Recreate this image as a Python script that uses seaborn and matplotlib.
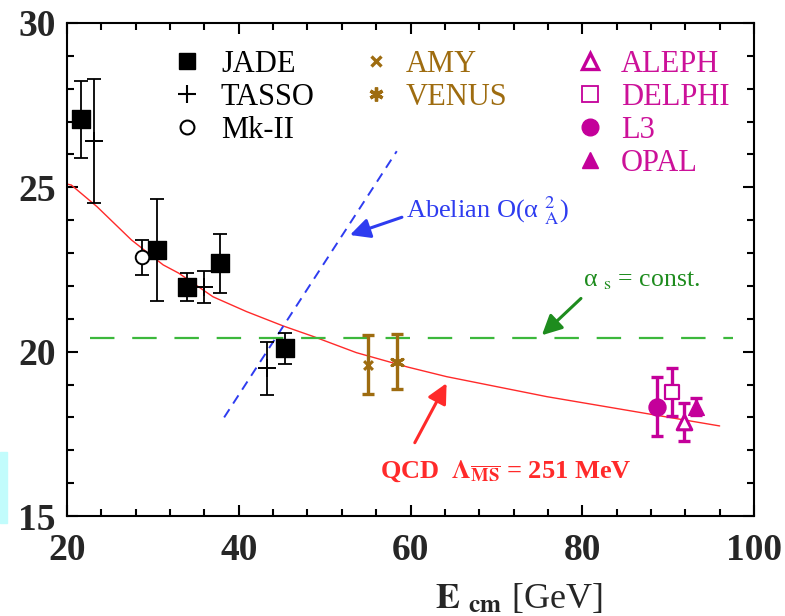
import matplotlib
matplotlib.use('Agg')

import matplotlib.pyplot as plt
import seaborn as sns
from matplotlib.lines import Line2D
from matplotlib.patches import Rectangle
from matplotlib.ticker import MultipleLocator

# DATA
jade_E = [21.6, 30.5, 34.0, 37.8, 45.4]
jade_val = [27.07, 23.09, 21.96, 22.69, 20.10]
jade_err = [1.18, 1.55, 0.42, 0.90, 0.48]

tasso_E = [23.2, 35.95, 43.25]
tasso_val = [26.41, 21.96, 19.49]
tasso_err = [1.90, 0.48, 0.80]

mk2_E = [28.7]
mk2_val = [22.87]
mk2_err = [0.53]

amy_E = [55.1]
amy_val = [19.60]
amy_err = [0.90]

venus_E = [58.4]
venus_val = [19.70]
venus_err = [0.83]

l3_E = [88.65]
l3_val = [18.33]
l3_err = [0.91]

delphi_E = [90.45]
delphi_val = [18.77]
delphi_err = [0.72]

aleph_E = [91.85]
aleph_val = [17.87]
aleph_err = [0.58]

opal_E = [93.3]
opal_val = [18.33]
opal_err = [0.27]

# QCD running curve
qcd_E = [20.0, 20.5, 23.5, 27.5, 31.2, 33.0, 37.0, 40.9, 45.2, 48.7, 53.7, 59.7, 64.2, 75.9, 96.0]
qcd_val = [25.10, 25.07, 24.41, 23.40, 22.64, 22.39, 21.67, 21.22, 20.78, 20.46, 19.97, 19.53, 19.24, 18.63, 17.74]

# Abelian O(alpha^2) line and alpha_s = const line
abel_E = [38.3, 58.4]
abel_val = [18.0, 26.1]
const_E = [22.7, 97.6]
const_val = [20.43, 20.43]

BROWN = '#9E6C10'
MAG = '#C4009A'
MAG_TXT = '#CC1199'
RED = '#FF2A2A'
BLUE = '#2E3CF0'
GREEN_LINE = '#3CB83C'
GREEN = '#1E8C1E'

sns.set_style("ticks")
plt.rcParams['font.family'] = ['Liberation Serif', 'DejaVu Serif']
plt.rcParams['mathtext.fontset'] = 'stix'

fig = plt.figure(figsize=(7.85, 6.16), dpi=100)
ax = fig.add_axes([67 / 785, 1 - 516 / 616, 687 / 785, 493 / 616])

# lines
sns.lineplot(x=qcd_E, y=qcd_val, ax=ax, color=RED, linewidth=1.0, sort=False, zorder=2)
sns.lineplot(x=abel_E, y=abel_val, ax=ax, color=BLUE, linewidth=1.4,
             linestyle=(0, (5, 3.5)), sort=False, zorder=2)
sns.lineplot(x=const_E, y=const_val, ax=ax, color=GREEN_LINE, linewidth=1.6,
             linestyle=(0, (11, 8)), sort=False, zorder=2)

# error bars
ebk = dict(fmt='none', ecolor='black', elinewidth=1.3, capsize=5, capthick=1.3, zorder=3)
ax.errorbar(jade_E, jade_val, yerr=jade_err, **ebk)
ax.errorbar(tasso_E, tasso_val, yerr=tasso_err, **ebk)
ax.errorbar(mk2_E, mk2_val, yerr=mk2_err, **ebk)
ebb = dict(fmt='none', ecolor=BROWN, elinewidth=2.4, capsize=4.5, capthick=2.4, zorder=3)
ax.errorbar(amy_E, amy_val, yerr=amy_err, **ebb)
ax.errorbar(venus_E, venus_val, yerr=venus_err, **ebb)
ebm = dict(fmt='none', ecolor=MAG, elinewidth=2.4, capsize=4.5, capthick=2.4, zorder=3)
for xs, ys, es in [(l3_E, l3_val, l3_err), (delphi_E, delphi_val, delphi_err),
                   (aleph_E, aleph_val, aleph_err), (opal_E, opal_val, opal_err)]:
    ax.errorbar(xs, ys, yerr=es, **ebm)

# markers
sns.scatterplot(x=jade_E, y=jade_val, ax=ax, marker='s', s=150, color='black',
                edgecolor='black', zorder=5)
sns.scatterplot(x=tasso_E, y=tasso_val, ax=ax, marker='+', s=170, color='black',
                linewidth=1.4, zorder=5)
sns.scatterplot(x=mk2_E, y=mk2_val, ax=ax, marker='o', s=95, color='white',
                edgecolor='black', linewidth=1.4, zorder=5)
sns.scatterplot(x=amy_E, y=amy_val, ax=ax, marker='x', s=40, color=BROWN,
                linewidth=2.2, zorder=5)
sns.scatterplot(x=venus_E, y=venus_val, ax=ax, marker=(6, 2, 0), s=80, color=BROWN,
                linewidth=2.2, zorder=5)
sns.scatterplot(x=l3_E, y=l3_val, ax=ax, marker='o', s=150, color=MAG,
                edgecolor=MAG, zorder=5)
sns.scatterplot(x=delphi_E, y=delphi_val, ax=ax, marker='s', s=110, color='white',
                edgecolor=MAG, linewidth=1.6, zorder=5)
sns.scatterplot(x=aleph_E, y=aleph_val, ax=ax, marker='^', s=110, color='white',
                edgecolor=MAG, linewidth=2.2, zorder=5)
sns.scatterplot(x=opal_E, y=opal_val, ax=ax, marker='^', s=130, color=MAG,
                edgecolor=MAG, zorder=5)

# arrows and labels
arw = '-|>,head_length=0.6,head_width=0.3'
ax.annotate('', xy=(52.95, 23.55), xytext=(59.0, 24.09),
            arrowprops=dict(arrowstyle=arw, color=BLUE, lw=2.2, mutation_scale=20,
                            shrinkA=0, shrinkB=0))
ax.annotate('', xy=(75.3, 20.5), xytext=(79.85, 21.62),
            arrowprops=dict(arrowstyle=arw, color=GREEN, lw=2.2, mutation_scale=20,
                            shrinkA=0, shrinkB=0))
ax.annotate('', xy=(64.2, 19.04), xytext=(60.5, 17.23),
            arrowprops=dict(arrowstyle=arw, color=RED, lw=2.2, mutation_scale=20,
                            shrinkA=0, shrinkB=0))

ax.text(59.5, 24.09, 'Abelian O(α ${}^{2}_{\\rm A}$)', color=BLUE, fontsize=19,
        va='baseline', ha='left')
ax.text(80.1, 22.0, 'α ${}_{\\rm s}$ = const.', color=GREEN, fontsize=18.5,
        va='baseline', ha='left')
ax.text(56.45, 16.17, 'QCD  $\\mathbf{\\Lambda}_{\\overline{\\mathbf{MS}}}$ = 251 MeV',
        color=RED, fontsize=19, fontweight='bold', va='baseline', ha='left')

# legends
def mk(**kw):
    return Line2D([], [], linestyle='none', **kw)

leg_kw = dict(frameon=False, loc='upper left', borderpad=0, borderaxespad=0,
              handlelength=1.0, handletextpad=0.6, labelspacing=0.13,
              prop={'family': 'Liberation Serif', 'size': 22})

h1 = [mk(marker='s', color='black', ms=12),
      mk(marker='+', color='black', ms=13, mew=1.5),
      mk(marker='o', mfc='white', mec='black', ms=10, mew=1.5)]
leg1 = ax.legend(h1, ['JADE', 'TASSO', 'Mk-II'], bbox_to_anchor=(0.153, 0.945),
                 labelcolor='black', **leg_kw)
ax.add_artist(leg1)

h2 = [mk(marker='x', color=BROWN, ms=7, mew=2.4),
      mk(marker=(6, 2, 0), color=BROWN, ms=10, mew=2.4)]
leg2 = ax.legend(h2, ['AMY', 'VENUS'], bbox_to_anchor=(0.428, 0.945),
                 labelcolor=BROWN, **dict(leg_kw, handletextpad=0.45))
ax.add_artist(leg2)

h3 = [mk(marker='^', mfc='white', mec=MAG, ms=11, mew=2.4),
      mk(marker='s', mfc='white', mec=MAG, ms=11, mew=1.3),
      mk(marker='o', color=MAG, ms=12),
      mk(marker='^', color=MAG, ms=12)]
ax.legend(h3, ['ALEPH', 'DELPHI', 'L3', 'OPAL'], bbox_to_anchor=(0.739, 0.945),
          labelcolor=MAG_TXT, **dict(leg_kw, handletextpad=0.52))

# axes
ax.set_xlim(20, 100)
ax.set_ylim(15, 30)
ax.xaxis.set_major_locator(MultipleLocator(20))
ax.xaxis.set_minor_locator(MultipleLocator(4))
ax.yaxis.set_major_locator(MultipleLocator(5))
ax.yaxis.set_minor_locator(MultipleLocator(1))
ax.tick_params(which='both', direction='in', top=True, right=True, width=1.5,
               color='black', labelsize=27)
ax.tick_params(axis='x', which='both', pad=12)
ax.tick_params(axis='y', which='both', pad=8)
ax.tick_params(which='major', length=8)
ax.tick_params(which='minor', length=5)
for lab in ax.get_xticklabels() + ax.get_yticklabels():
    lab.set_fontweight('bold')
for sp in ax.spines.values():
    sp.set_linewidth(1.5)
    sp.set_color('black')

ax.set_xlabel('$\\mathbf{E}\\ {}_{\\mathbf{cm}}$ [GeV]', fontsize=26)
ax.xaxis.set_label_coords(0.658, -0.187)
ax.xaxis.label.set_va('baseline')

fig.patches.append(Rectangle((0, 0.151), 7 / 785, 0.115, transform=fig.transFigure,
                             color='#C2FCFC', zorder=0))

plt.savefig("out.png", dpi=100)
plt.close()
print("Saved: out.png")
